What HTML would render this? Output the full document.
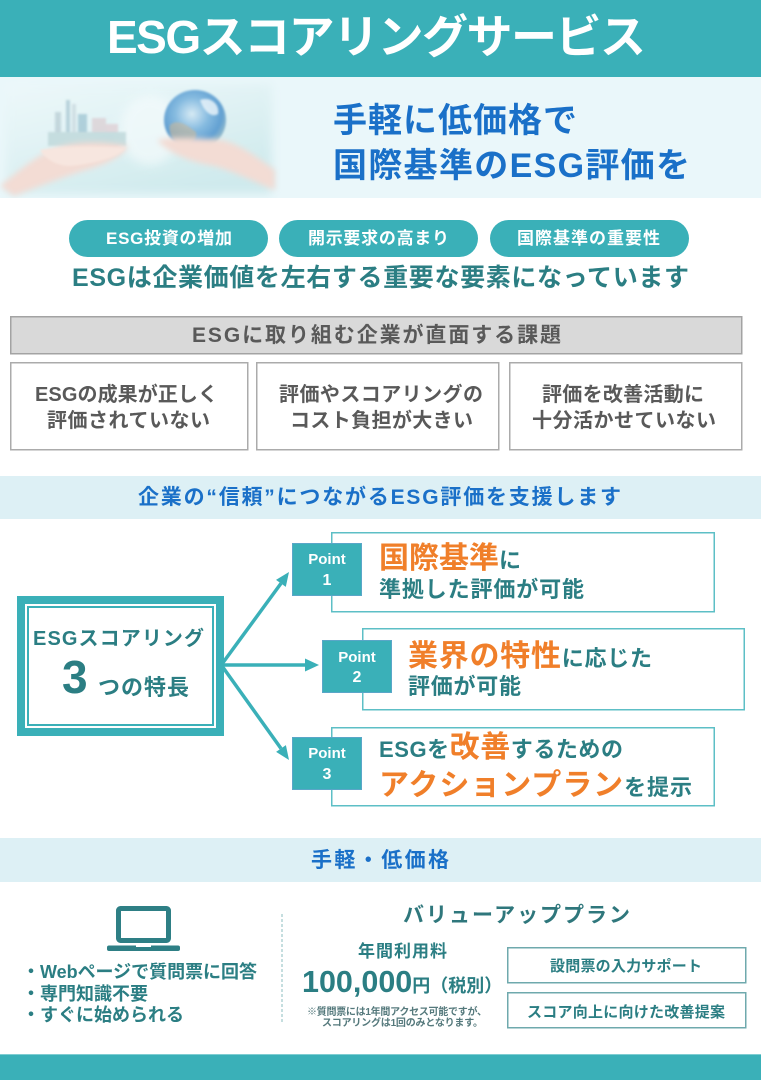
<!DOCTYPE html>
<html><head><meta charset="utf-8">
<style>
html,body{margin:0;padding:0;background:#fff;}
svg{display:block;}
text{font-family:"Liberation Sans","Noto Sans CJK JP",sans-serif;font-weight:bold;}
</style></head>
<body>
<svg width="761" height="1080" viewBox="0 0 761 1080" xmlns="http://www.w3.org/2000/svg">
<defs>
  <linearGradient id="heroBg" x1="0" y1="0" x2="0.6" y2="1">
    <stop offset="0" stop-color="#edf8fa"/>
    <stop offset="0.5" stop-color="#e0f2f4"/>
    <stop offset="1" stop-color="#cfeaed"/>
  </linearGradient>
  <radialGradient id="globe" cx="0.45" cy="0.4" r="0.6">
    <stop offset="0" stop-color="#d6eaf4"/>
    <stop offset="0.45" stop-color="#86bbe0"/>
    <stop offset="0.8" stop-color="#62a0d2"/>
    <stop offset="1" stop-color="#95bccb"/>
  </radialGradient>
  <filter id="blur3" x="-20%" y="-20%" width="140%" height="140%"><feGaussianBlur stdDeviation="3"/></filter>
  <filter id="blur1" x="-20%" y="-20%" width="140%" height="140%"><feGaussianBlur stdDeviation="1"/></filter>
  <filter id="blur6" x="-20%" y="-20%" width="140%" height="140%"><feGaussianBlur stdDeviation="5"/></filter>
  <clipPath id="heroClip"><rect x="0" y="77" width="290" height="121"/></clipPath>
</defs>

<!-- Header -->
<rect x="0" y="0" width="761" height="77" fill="#3ab0b8"/>
<text x="107" y="53" font-size="46" fill="#ffffff" textLength="539" lengthAdjust="spacing">ESGスコアリングサービス</text>

<!-- Hero -->
<rect x="0" y="77" width="761" height="121" fill="#eaf7fa"/>
<g clip-path="url(#heroClip)">
  <rect x="6" y="84" width="266" height="110" fill="url(#heroBg)" filter="url(#blur6)"/>
  <ellipse cx="150" cy="130" rx="30" ry="35" fill="#f4fbfc" opacity="0.7" filter="url(#blur6)"/>
  <!-- buildings -->
  <g filter="url(#blur1)" opacity="0.75">
    <rect x="55" y="112" width="6" height="34" fill="#b9cdd4"/>
    <rect x="66" y="100" width="4" height="46" fill="#a9c7d3"/>
    <rect x="72" y="104" width="4" height="42" fill="#c9d8de"/>
    <rect x="78" y="114" width="9" height="30" fill="#9ec4d2"/>
    <rect x="92" y="118" width="14" height="30" fill="#dccfd3"/>
    <rect x="106" y="124" width="12" height="24" fill="#e0ced3"/>
    <rect x="48" y="132" width="78" height="14" fill="#bcd6d8"/>
  </g>
  <!-- left hand -->
  <path d="M0,186 C20,170 40,152 62,146 C85,140 110,142 128,146 C124,156 104,165 86,170 C66,176 40,186 14,196 Z" fill="#f3dcd4" filter="url(#blur3)"/>
  <path d="M40,150 C70,146 100,146 126,148 C118,158 92,164 70,166 C58,166 46,160 40,150 Z" fill="#f7e6df" filter="url(#blur1)"/>
  <!-- globe -->
  <ellipse cx="195" cy="120" rx="31" ry="30" fill="url(#globe)" filter="url(#blur1)"/>
  <path d="M170,125 C178,118 188,126 196,132 C198,140 190,146 180,144 C172,140 168,132 170,125 Z" fill="#c9b79a" opacity="0.6" filter="url(#blur1)"/>
  <path d="M200,100 C210,96 220,104 218,114 C212,118 204,112 200,100 Z" fill="#eef6fb" opacity="0.8" filter="url(#blur1)"/>
  <!-- right hand -->
  <path d="M157,140 C175,136 200,138 222,140 C240,144 258,158 275,170 L275,190 C258,184 236,172 214,166 C190,162 170,154 157,140 Z" fill="#f3dcd4" filter="url(#blur3)"/>
</g>
<text x="333" y="132" font-size="34" fill="#1a70c8" textLength="244" lengthAdjust="spacing">手軽に低価格で</text>
<text x="333" y="177" font-size="34" fill="#1a70c8" textLength="357" lengthAdjust="spacing">国際基準のESG評価を</text>

<!-- Pills -->
<rect x="69" y="220" width="199" height="37" rx="18.5" fill="#3ab0b8"/>
<rect x="279" y="220" width="199" height="37" rx="18.5" fill="#3ab0b8"/>
<rect x="490" y="220" width="199" height="37" rx="18.5" fill="#3ab0b8"/>
<text x="106" y="244" font-size="17" fill="#ffffff" textLength="126" lengthAdjust="spacing">ESG投資の増加</text>
<text x="308" y="244" font-size="17" fill="#ffffff" textLength="141" lengthAdjust="spacing">開示要求の高まり</text>
<text x="517" y="244" font-size="17" fill="#ffffff" textLength="143" lengthAdjust="spacing">国際基準の重要性</text>

<text x="72" y="286" font-size="25" fill="#2b7e83" textLength="617" lengthAdjust="spacing">ESGは企業価値を左右する重要な要素になっています</text>

<!-- Issue header -->
<rect x="10.75" y="316.75" width="731" height="37" fill="#d9d9d9" stroke="#a3a3a3" stroke-width="1.5"/>
<text x="192" y="342" font-size="21" fill="#595959" textLength="369" lengthAdjust="spacing">ESGに取り組む企業が直面する課題</text>

<rect x="10.75" y="362.75" width="237" height="87" fill="#ffffff" stroke="#ababab" stroke-width="1.5"/>
<rect x="256.75" y="362.75" width="242" height="87" fill="#ffffff" stroke="#ababab" stroke-width="1.5"/>
<rect x="509.75" y="362.75" width="232" height="87" fill="#ffffff" stroke="#ababab" stroke-width="1.5"/>
<g font-size="20" fill="#595959">
  <text x="35" y="401" textLength="183" lengthAdjust="spacing">ESGの成果が正しく</text>
  <text x="47" y="427" textLength="163" lengthAdjust="spacing">評価されていない</text>
  <text x="279" y="401" textLength="204" lengthAdjust="spacing">評価やスコアリングの</text>
  <text x="290" y="427" textLength="183" lengthAdjust="spacing">コスト負担が大きい</text>
  <text x="542" y="401" textLength="162" lengthAdjust="spacing">評価を改善活動に</text>
  <text x="532" y="427" textLength="184" lengthAdjust="spacing">十分活かせていない</text>
</g>

<!-- Band 1 -->
<rect x="0" y="476" width="761" height="43" fill="#ddf0f5"/>
<text x="138" y="504" font-size="21" fill="#1a70c8" textLength="483" lengthAdjust="spacing">企業の“信頼”につながるESG評価を支援します</text>

<!-- Left feature box -->
<rect x="21" y="600" width="199" height="132" fill="#ffffff" stroke="#3ab0b8" stroke-width="8"/>
<rect x="28" y="607" width="185" height="118" fill="none" stroke="#3ab0b8" stroke-width="2"/>
<text x="33" y="645" font-size="20" fill="#2b7e83" textLength="171" lengthAdjust="spacing">ESGスコアリング</text>
<text x="62" y="693" font-size="46" fill="#2b7e83">3</text>
<text x="98" y="695" font-size="22" fill="#2b7e83" textLength="91" lengthAdjust="spacing">つの特長</text>

<!-- Arrows -->
<g stroke="#3ab0b8" stroke-width="3.5" fill="none">
  <line x1="222" y1="664" x2="281" y2="583.4"/>
  <line x1="222" y1="665" x2="306" y2="665"/>
  <line x1="222" y1="666" x2="281" y2="748.5"/>
</g>
<g fill="#3ab0b8">
  <polygon points="289,572 285.8,586.9 276,579.9"/>
  <polygon points="319,665 305,658.5 305,671.5"/>
  <polygon points="289,760 285.9,745.1 276.1,751.9"/>
</g>

<!-- Point boxes -->
<rect x="331.75" y="532.75" width="382.5" height="79" fill="#ffffff" stroke="#5dbfc6" stroke-width="1.5"/>
<rect x="362.75" y="628.75" width="381.5" height="81" fill="#ffffff" stroke="#5dbfc6" stroke-width="1.5"/>
<rect x="331.75" y="727.75" width="382.5" height="78" fill="#ffffff" stroke="#5dbfc6" stroke-width="1.5"/>

<rect x="292.5" y="543.5" width="69" height="52" fill="#3ab0b8" stroke="#5aa6c8" stroke-width="1"/>
<rect x="322.5" y="640.5" width="69" height="52" fill="#3ab0b8" stroke="#5aa6c8" stroke-width="1"/>
<rect x="292.5" y="737.5" width="69" height="52" fill="#3ab0b8" stroke="#5aa6c8" stroke-width="1"/>
<g fill="#ffffff" text-anchor="middle">
  <text x="327" y="564" font-size="15">Point</text>
  <text x="327" y="585" font-size="16">1</text>
  <text x="357" y="662" font-size="15">Point</text>
  <text x="357" y="682" font-size="16">2</text>
  <text x="327" y="758" font-size="15">Point</text>
  <text x="327" y="779" font-size="16">3</text>
</g>

<text x="379" y="568" font-size="30" fill="#f07f2a" textLength="142" lengthAdjust="spacing">国際基準<tspan font-size="22" fill="#2b7e83">に</tspan></text>
<text x="379" y="597" font-size="22" fill="#2b7e83" textLength="205" lengthAdjust="spacing">準拠した評価が可能</text>

<text x="408" y="666" font-size="30" fill="#f07f2a" textLength="244" lengthAdjust="spacing">業界の特性<tspan font-size="22" fill="#2b7e83">に応じた</tspan></text>
<text x="408" y="694" font-size="22" fill="#2b7e83" textLength="113" lengthAdjust="spacing">評価が可能</text>

<text x="379" y="757" font-size="22" fill="#2b7e83" textLength="244" lengthAdjust="spacing">ESGを<tspan font-size="30" fill="#f07f2a">改善</tspan>するための</text>
<text x="379" y="795" font-size="30" fill="#f07f2a" textLength="313" lengthAdjust="spacing">アクションプラン<tspan font-size="22" fill="#2b7e83">を提示</tspan></text>

<!-- Band 2 -->
<rect x="0" y="838" width="761" height="44" fill="#ddf0f5"/>
<text x="311" y="867" font-size="21" fill="#1a70c8" textLength="138" lengthAdjust="spacing">手軽・低価格</text>

<!-- Laptop -->
<rect x="118.5" y="908.5" width="50" height="32" rx="2" fill="#ffffff" stroke="#2e7f85" stroke-width="5"/>
<rect x="107" y="945.5" width="73" height="5.5" rx="2" fill="#2e7f85"/>
<rect x="136" y="945.5" width="15" height="1.5" fill="#ffffff"/>

<g font-size="18" fill="#2b7e83">
  <text x="22" y="978" textLength="235" lengthAdjust="spacing">・Webページで質問票に回答</text>
  <text x="22" y="1000">・専門知識不要</text>
  <text x="22" y="1021">・すぐに始められる</text>
</g>

<line x1="282" y1="914" x2="282" y2="1023" stroke="#8bbcbf" stroke-width="1" stroke-dasharray="3,2"/>

<text x="403" y="922" font-size="21" fill="#2f777c" textLength="227" lengthAdjust="spacing">バリューアッププラン</text>
<text x="358" y="957" font-size="17" fill="#2b7e83" textLength="89" lengthAdjust="spacing">年間利用料</text>
<text x="302" y="992" font-size="30.5" fill="#2b7e83">100,000<tspan font-size="18">円（税別）</tspan></text>
<g font-size="10" fill="#55797c" font-weight="normal">
  <text x="307" y="1015" textLength="180" lengthAdjust="spacing">※質問票には1年間アクセス可能ですが、</text>
  <text x="322" y="1026" textLength="161" lengthAdjust="spacing">スコアリングは1回のみとなります。</text>
</g>

<rect x="507.75" y="947.75" width="238" height="35" fill="#ffffff" stroke="#6fa9ad" stroke-width="1.5"/>
<rect x="507.75" y="992.75" width="238" height="35" fill="#ffffff" stroke="#6fa9ad" stroke-width="1.5"/>
<text x="550" y="971" font-size="15" fill="#2b7e83" textLength="152" lengthAdjust="spacing">設問票の入力サポート</text>
<text x="527" y="1017" font-size="15" fill="#2b7e83" textLength="198" lengthAdjust="spacing">スコア向上に向けた改善提案</text>

<!-- Footer band -->
<rect x="0" y="1054" width="761" height="26" fill="#3ab0b8"/>
<rect x="0" y="1054" width="761" height="1" fill="#7fcdd2"/>
</svg>
</body></html>
